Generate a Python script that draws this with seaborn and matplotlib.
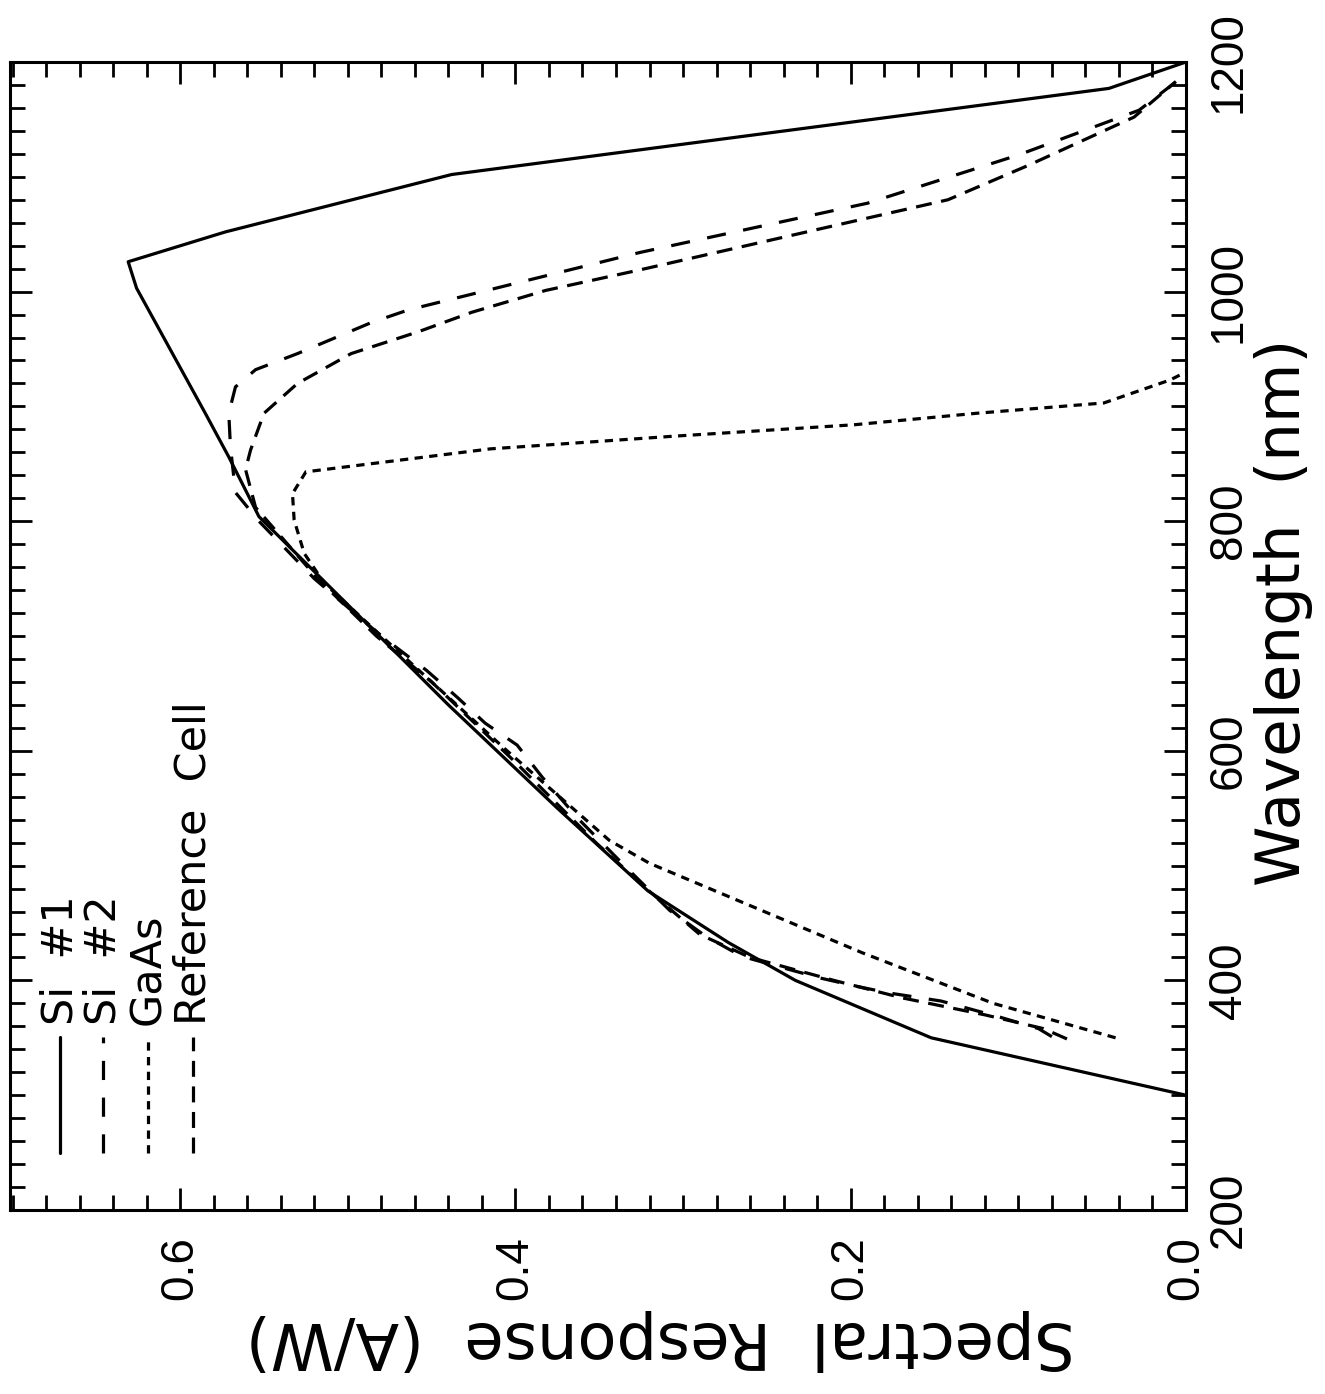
import matplotlib
matplotlib.use("Agg")
import matplotlib.pyplot as plt
import pandas as pd
import seaborn as sns
from matplotlib.ticker import MultipleLocator, FixedLocator, FormatStrFormatter

sns.set_theme(style="white")
plt.rcParams['font.family'] = ['Liberation Sans', 'DejaVu Sans']
plt.rcParams['text.color'] = 'black'
plt.rcParams['axes.labelcolor'] = 'black'
plt.rcParams['xtick.color'] = 'black'
plt.rcParams['ytick.color'] = 'black'

# Spectral response curves
si1_wl = [300, 350, 400, 433, 478, 550, 640, 720, 804, 856, 894, 1003, 1026, 1052, 1102, 1177, 1200]
si1_resp = [0.0, 0.152, 0.233, 0.273, 0.321, 0.375, 0.44, 0.495, 0.553, 0.571, 0.585, 0.626, 0.631, 0.573, 0.438, 0.046, 0.0]

si2_wl = [351, 358, 368, 382, 389, 395, 402, 410, 421, 438, 461, 500, 540, 577, 605, 624, 647, 670, 700, 750,
          800, 825, 865, 894, 917, 932, 946, 973, 984, 1034, 1077, 1119, 1158, 1185]
si2_resp = [0.080, 0.088, 0.111, 0.146, 0.177, 0.197, 0.218, 0.238, 0.265, 0.286, 0.308, 0.335, 0.362, 0.384, 0.399,
            0.418, 0.435, 0.453, 0.48, 0.52, 0.553, 0.567, 0.570, 0.571, 0.567, 0.555, 0.530, 0.486, 0.464, 0.326,
            0.190, 0.100, 0.028, 0.004]

gaas_wl = [350, 380, 424, 502, 522, 600, 700, 746, 772, 801, 824, 843, 863, 874, 884, 894, 903, 923, 930]
gaas_resp = [0.042, 0.115, 0.193, 0.320, 0.344, 0.405, 0.48, 0.514, 0.526, 0.532, 0.533, 0.525, 0.415, 0.306,
             0.198, 0.125, 0.049, 0.0095, 0.0]

ref_wl = [349, 358, 370, 385, 400, 420, 440, 480, 520, 590, 660, 700, 750, 812, 845, 862, 894, 920, 946, 965,
          982, 1001, 1019, 1080, 1110, 1152, 1183]
ref_resp = [0.071, 0.085, 0.12, 0.17, 0.21, 0.26, 0.29, 0.322, 0.352, 0.40, 0.45, 0.483, 0.518, 0.555, 0.561,
            0.558, 0.55, 0.53, 0.498, 0.458, 0.426, 0.382, 0.3255, 0.142, 0.094, 0.031, 0.006]

labels = ["Si  #1", "Si  #2", "GaAs", "Reference  Cell"]
styles = ["-", (0, (6, 5.5)), (0, (2.6, 2)), (0, (5, 3))]
curves = [(si1_wl, si1_resp), (si2_wl, si2_resp), (gaas_wl, gaas_resp), (ref_wl, ref_resp)]

# figure is drawn turned 90 degrees, as in the scan
fig = plt.figure(figsize=(13.25, 13.94), dpi=100)
ax = fig.add_axes([10/1325, 1 - 1210/1394, 1176/1325, 1148/1394])

for (wl, resp), ls in zip(curves, styles):
    df = pd.DataFrame({"wavelength": wl, "response": resp})
    sns.lineplot(data=df, x="response", y="wavelength", orient="y", estimator=None,
                 color="black", linewidth=2.3, linestyle=ls, ax=ax)

ax.set_xlim(0.7015, 0)
ax.set_ylim(200, 1200)
ax.xaxis.set_major_locator(FixedLocator([0.0, 0.2, 0.4, 0.6]))
ax.xaxis.set_minor_locator(MultipleLocator(0.02))
ax.xaxis.set_major_formatter(FormatStrFormatter('%.1f'))
ax.yaxis.set_major_locator(MultipleLocator(200))
ax.yaxis.set_minor_locator(MultipleLocator(20))

ax.tick_params(which='both', direction='in', top=True, bottom=True, left=True, right=True,
               labelbottom=True, labeltop=False, labelleft=False, labelright=True,
               width=2, color='black')
ax.tick_params(which='major', length=16)
ax.tick_params(which='minor', length=11)
ax.tick_params(axis='x', pad=19, labelsize=33)
ax.tick_params(axis='y', pad=15, labelsize=33)
for lab in ax.get_xticklabels():
    lab.set(rotation=90, ha='center', va='top', rotation_mode='default')
for lab in ax.get_yticklabels():
    lab.set(rotation=90, ha='left', va='center', rotation_mode='default')

for sp in ax.spines.values():
    sp.set_linewidth(2.2)
    sp.set_color('black')

ax.set_xlabel("Spectral  Response  (A/W)", fontsize=46, family='DejaVu Sans')
ax.xaxis.label.set(rotation=180, ha='center', va='center')
ax.xaxis.set_label_coords(0.553, -0.113)
ax.yaxis.set_label_position('right')
ax.set_ylabel("Wavelength  (nm)", fontsize=44, family='DejaVu Sans')
ax.yaxis.label.set(rotation=90, ha='center', va='center', rotation_mode='anchor')
ax.yaxis.set_label_coords(1.083, 0.521)

# legend, drawn turned like the rest
leg_x = [0.0426, 0.0791, 0.1174, 0.1557]
for name, ls, x in zip(labels, styles, leg_x):
    ax.plot([x, x], [0.0497, 0.1507], transform=ax.transAxes, color='black', lw=2.3, linestyle=ls)
    ax.text(x, 0.161, name, rotation=90, ha='center', va='bottom', fontsize=31,
            family='DejaVu Sans', transform=ax.transAxes)

fig.savefig('out.png', dpi=100)
